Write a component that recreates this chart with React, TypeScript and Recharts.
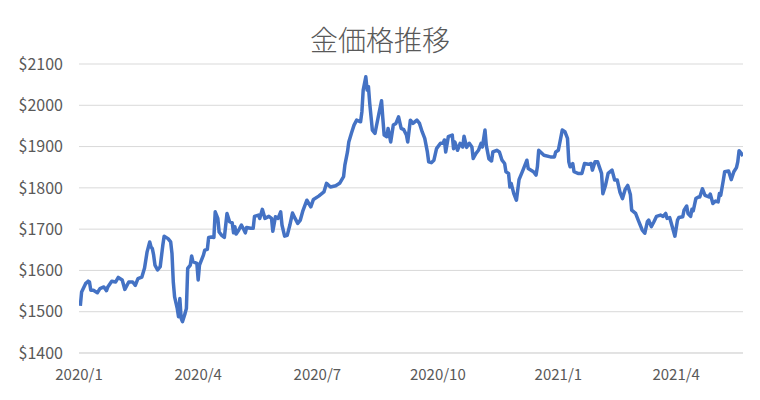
import { LineChart, Line, XAxis, YAxis, CartesianGrid } from "recharts";

// 日付（取引日）
const dates = [
  "2020-01-02", "2020-01-03", "2020-01-06", "2020-01-08", "2020-01-09", "2020-01-10", "2020-01-12", "2020-01-15",
  "2020-01-17", "2020-01-20", "2020-01-22", "2020-01-23", "2020-01-26", "2020-01-29", "2020-01-31", "2020-02-03",
  "2020-02-05", "2020-02-06", "2020-02-08", "2020-02-11", "2020-02-13", "2020-02-15", "2020-02-18", "2020-02-20",
  "2020-02-22", "2020-02-24", "2020-02-25", "2020-02-26", "2020-02-27", "2020-02-28", "2020-03-01", "2020-03-03",
  "2020-03-05", "2020-03-06", "2020-03-09", "2020-03-11", "2020-03-12", "2020-03-13", "2020-03-14", "2020-03-16",
  "2020-03-17", "2020-03-18", "2020-03-19", "2020-03-20", "2020-03-22", "2020-03-23", "2020-03-24", "2020-03-26",
  "2020-03-27", "2020-03-28", "2020-03-31", "2020-04-01", "2020-04-02", "2020-04-05", "2020-04-06", "2020-04-08",
  "2020-04-09", "2020-04-11", "2020-04-13", "2020-04-14", "2020-04-16", "2020-04-17", "2020-04-19", "2020-04-21",
  "2020-04-23", "2020-04-25", "2020-04-27", "2020-04-28", "2020-04-29", "2020-04-30", "2020-05-02", "2020-05-04",
  "2020-05-06", "2020-05-07", "2020-05-08", "2020-05-11", "2020-05-13", "2020-05-14", "2020-05-17", "2020-05-18",
  "2020-05-20", "2020-05-22", "2020-05-25", "2020-05-27", "2020-05-28", "2020-05-30", "2020-06-01", "2020-06-03",
  "2020-06-04", "2020-06-06", "2020-06-08", "2020-06-10", "2020-06-12", "2020-06-14", "2020-06-16", "2020-06-18",
  "2020-06-20", "2020-06-23", "2020-06-26", "2020-06-28", "2020-07-02", "2020-07-06", "2020-07-08", "2020-07-11",
  "2020-07-15", "2020-07-18", "2020-07-21", "2020-07-22", "2020-07-24", "2020-07-25", "2020-07-27", "2020-07-29",
  "2020-07-31", "2020-08-03", "2020-08-04", "2020-08-05", "2020-08-07", "2020-08-08", "2020-08-09", "2020-08-10",
  "2020-08-12", "2020-08-14", "2020-08-15", "2020-08-17", "2020-08-19", "2020-08-20", "2020-08-21", "2020-08-23",
  "2020-08-24", "2020-08-26", "2020-08-28", "2020-08-30", "2020-09-01", "2020-09-03", "2020-09-05", "2020-09-07",
  "2020-09-08", "2020-09-10", "2020-09-12", "2020-09-15", "2020-09-17", "2020-09-19", "2020-09-21", "2020-09-23",
  "2020-09-24", "2020-09-26", "2020-09-28", "2020-09-30", "2020-10-03", "2020-10-05", "2020-10-06", "2020-10-07",
  "2020-10-09", "2020-10-12", "2020-10-13", "2020-10-14", "2020-10-16", "2020-10-18", "2020-10-20", "2020-10-21",
  "2020-10-23", "2020-10-25", "2020-10-27", "2020-10-28", "2020-10-30", "2020-11-01", "2020-11-03", "2020-11-04",
  "2020-11-06", "2020-11-07", "2020-11-09", "2020-11-11", "2020-11-12", "2020-11-15", "2020-11-17", "2020-11-19",
  "2020-11-21", "2020-11-22", "2020-11-24", "2020-11-25", "2020-11-26", "2020-11-28", "2020-11-30", "2020-12-02",
  "2020-12-05", "2020-12-08", "2020-12-09", "2020-12-13", "2020-12-15", "2020-12-16", "2020-12-17", "2020-12-21",
  "2020-12-26", "2020-12-29", "2020-12-30", "2021-01-01", "2021-01-04", "2021-01-06", "2021-01-08", "2021-01-09",
  "2021-01-10", "2021-01-12", "2021-01-13", "2021-01-16", "2021-01-19", "2021-01-21", "2021-01-24", "2021-01-26",
  "2021-01-27", "2021-01-29", "2021-01-31", "2021-02-03", "2021-02-04", "2021-02-06", "2021-02-08", "2021-02-11",
  "2021-02-13", "2021-02-15", "2021-02-17", "2021-02-19", "2021-02-21", "2021-02-23", "2021-02-25", "2021-02-26",
  "2021-03-01", "2021-03-03", "2021-03-05", "2021-03-06", "2021-03-08", "2021-03-10", "2021-03-11", "2021-03-13",
  "2021-03-15", "2021-03-17", "2021-03-20", "2021-03-22", "2021-03-24", "2021-03-25", "2021-03-27", "2021-03-29",
  "2021-03-31", "2021-04-02", "2021-04-03", "2021-04-06", "2021-04-07", "2021-04-09", "2021-04-10", "2021-04-12",
  "2021-04-13", "2021-04-14", "2021-04-16", "2021-04-18", "2021-04-19", "2021-04-21", "2021-04-23", "2021-04-26",
  "2021-04-27", "2021-04-29", "2021-05-01", "2021-05-03", "2021-05-04", "2021-05-05", "2021-05-07", "2021-05-08",
  "2021-05-11", "2021-05-13", "2021-05-15", "2021-05-17", "2021-05-18", "2021-05-19", "2021-05-21", "2021-05-22",
];

// 金価格（ドル）
const prices = [
  1514, 1548, 1568, 1574, 1572, 1552, 1552, 1546,
  1556, 1560, 1551, 1560, 1574, 1572, 1583, 1577,
  1554, 1560, 1572, 1572, 1564, 1580, 1584, 1605,
  1645, 1669, 1657, 1653, 1637, 1613, 1601, 1609,
  1661, 1683, 1677, 1669, 1641, 1572, 1536, 1508,
  1488, 1532, 1484, 1476, 1496, 1508, 1605, 1613,
  1635, 1621, 1617, 1577, 1613, 1637, 1649, 1651,
  1680, 1681, 1680, 1742, 1726, 1693, 1685, 1680,
  1738, 1718, 1715, 1691, 1706, 1688, 1698, 1710,
  1698, 1691, 1704, 1702, 1702, 1731, 1734, 1726,
  1748, 1726, 1731, 1726, 1695, 1730, 1726, 1742,
  1710, 1683, 1685, 1710, 1739, 1726, 1714, 1722,
  1745, 1770, 1754, 1772, 1780, 1790, 1811, 1802,
  1805, 1811, 1827, 1855, 1887, 1911, 1932, 1952,
  1964, 1960, 1984, 2037, 2069, 2037, 2045, 2004,
  1940, 1932, 1948, 1980, 2011, 1968, 1928, 1924,
  1944, 1911, 1952, 1956, 1972, 1944, 1941, 1928,
  1911, 1964, 1956, 1964, 1956, 1936, 1920, 1887,
  1863, 1861, 1867, 1895, 1908, 1908, 1916, 1887,
  1924, 1928, 1895, 1911, 1891, 1908, 1899, 1925,
  1898, 1908, 1899, 1871, 1883, 1891, 1908, 1899,
  1940, 1903, 1870, 1865, 1887, 1891, 1887, 1867,
  1859, 1839, 1835, 1802, 1811, 1786, 1770, 1820,
  1843, 1867, 1847, 1839, 1831, 1851, 1891, 1879,
  1875, 1875, 1887, 1891, 1940, 1936, 1920, 1863,
  1851, 1859, 1839, 1835, 1835, 1859, 1857, 1859,
  1843, 1863, 1863, 1835, 1786, 1806, 1835, 1843,
  1819, 1819, 1790, 1774, 1796, 1806, 1784, 1746,
  1738, 1722, 1706, 1698, 1690, 1718, 1722, 1706,
  1718, 1731, 1734, 1731, 1738, 1726, 1728, 1706,
  1683, 1722, 1728, 1730, 1746, 1756, 1738, 1731,
  1748, 1744, 1774, 1778, 1778, 1798, 1782, 1778,
  1785, 1762, 1768, 1766, 1786, 1782, 1819, 1839,
  1841, 1820, 1839, 1849, 1863, 1890, 1882, 1877,
];

// 軸の範囲と目盛り
const xStart = "2020-01-01";
const xEnd = "2021-05-22";
const xTickDates = ["2020-01-01", "2020-04-01", "2020-07-01", "2020-10-01", "2021-01-01", "2021-04-01"];
const yTicks = [1400, 1500, 1600, 1700, 1800, 1900, 2000, 2100];

const chartData = dates.map((d, i) => ({ t: Date.parse(d), price: prices[i] }));

// 日付を "2020/1" 形式に
function formatMonth(t: number): string {
  const d = new Date(t);
  return `${d.getUTCFullYear()}/${d.getUTCMonth() + 1}`;
}

const FONT = '"Noto Sans CJK JP", "Noto Sans", sans-serif';

export default function App() {
  return (
    <div style={{ position: "relative", width: 760, height: 400, background: "#fff", fontFamily: FONT }}>
      <style>{"body{margin:0}"}</style>
      <div
        style={{
          position: "absolute",
          top: 21,
          left: 0,
          width: 760,
          textAlign: "center",
          fontSize: 28,
          color: "#595959",
          fontWeight: 300,
          lineHeight: "36px",
        }}
      >
        金価格推移
      </div>
      <LineChart width={760} height={400} data={chartData} margin={{ top: 64, right: 17, left: 0, bottom: 17 }}>
        <CartesianGrid vertical={false} stroke="#D9D9D9" strokeWidth={1} />
        <XAxis
          dataKey="t"
          type="number"
          domain={[Date.parse(xStart), Date.parse(xEnd)]}
          ticks={xTickDates.map((d) => Date.parse(d))}
          tickFormatter={formatMonth}
          tick={{ fontSize: 15, fill: "#595959", fontFamily: FONT }}
          axisLine={{ stroke: "#D9D9D9" }}
          tickLine={false}
          tickSize={0}
          tickMargin={16}
          height={30}
          allowDataOverflow
        />
        <YAxis
          domain={[1400, 2100]}
          ticks={yTicks}
          tickFormatter={(v) => `$${v}`}
          tick={{ fontSize: 16, fill: "#595959", fontFamily: FONT }}
          axisLine={false}
          tickLine={false}
          tickSize={0}
          tickMargin={16}
          width={79}
        />
        <Line
          type="linear"
          dataKey="price"
          stroke="#4472C4"
          strokeWidth={3.5}
          dot={false}
          strokeLinejoin="round"
          isAnimationActive={false}
        />
      </LineChart>
    </div>
  );
}
